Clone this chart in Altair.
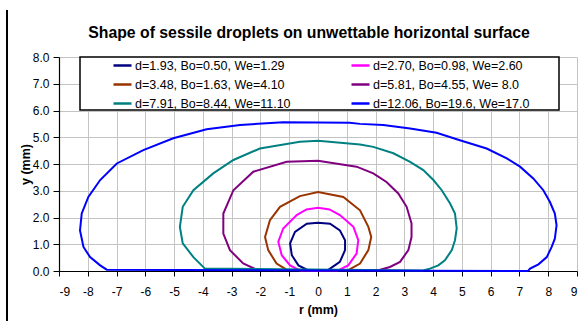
import altair as alt
import pandas as pd

labels = [
    "d=1.93, Bo=0.50, We=1.29",
    "d=2.70, Bo=0.98, We=2.60",
    "d=3.48, Bo=1.63, We=4.10",
    "d=5.81, Bo=4.55, We= 8.0",
    "d=7.91, Bo=8.44, We=11.10",
    "d=12.06, Bo=19.6, We=17.0",
]
colors = ["#000080", "#ff00ff", "#993300", "#800080", "#008080", "#0000ff"]

r1 = [0.30, 0.42, 0.76, 0.94, 0.94, 0.76, 0.42, 0.00, -0.39, -0.80, -0.97, -0.91, -0.68, -0.30]
y1 = [0.00, 0.09, 0.34, 0.78, 1.15, 1.52, 1.77, 1.80, 1.77, 1.46, 1.03, 0.59, 0.21, 0.00]

r2 = [0.70, 1.05, 1.34, 1.40, 1.23, 0.76, 0.40, 0.00, -0.40, -0.74, -1.21, -1.38, -1.26, -0.97, -0.63]
y2 = [0.02, 0.21, 0.65, 1.15, 1.65, 2.09, 2.30, 2.36, 2.30, 2.09, 1.59, 1.09, 0.59, 0.21, 0.02]

r3 = [1.05, 1.46, 1.75, 1.85, 1.75, 1.46, 0.88, 0.00, -0.63, -1.32, -1.67, -1.84, -1.73, -1.44, -1.09]
y3 = [0.03, 0.28, 0.78, 1.27, 1.65, 2.27, 2.77, 2.95, 2.80, 2.40, 1.90, 1.27, 0.78, 0.28, 0.05]

r4 = [2.10, 2.50, 2.85, 3.14, 3.25, 3.25, 3.08, 2.79, 2.38, 1.92, 1.34, 0.00, -1.09, -2.25, -2.94, -3.29, -3.29, -3.06, -2.60, -2.13]
y4 = [0.03, 0.15, 0.34, 0.78, 1.27, 1.78, 2.40, 2.90, 3.33, 3.65, 3.90, 4.12, 4.08, 3.71, 3.02, 2.15, 1.40, 0.78, 0.28, 0.05]

r5 = [3.65, 3.89, 4.18, 4.41, 4.65, 4.76, 4.82, 4.76, 4.59, 4.30, 4.01, 3.66, 3.20, 2.62, 1.92, 1.46, 0.00,
      -0.63, -2.02, -2.94, -3.64, -4.33, -4.70, -4.80, -4.70, -4.33, -3.93]
y5 = [0.02, 0.09, 0.21, 0.40, 0.78, 1.15, 1.59, 2.15, 2.52, 3.02, 3.40, 3.77, 4.08, 4.40, 4.64, 4.73, 4.87,
      4.83, 4.58, 4.15, 3.65, 3.02, 2.40, 1.65, 1.03, 0.52, 0.09]

r6 = [7.30, 7.37, 7.66, 7.95, 8.12, 8.23, 8.29, 8.23, 8.06, 7.83, 7.48, 7.02, 6.56, 5.86, 4.93, 4.12, 3.20,
      2.27, 1.46, 1.10, 0.00, -1.21, -2.71, -3.87, -5.03, -6.07, -6.99, -7.57, -7.98, -8.21, -8.27, -8.15,
      -7.92, -7.57, -7.34]
y6 = [0.00, 0.09, 0.25, 0.52, 0.90, 1.21, 1.71, 2.15, 2.58, 3.02, 3.46, 3.90, 4.21, 4.58, 4.89, 5.17, 5.33,
      5.46, 5.50, 5.54, 5.55, 5.56, 5.46, 5.30, 4.96, 4.52, 4.02, 3.40, 2.77, 2.15, 1.52, 0.90, 0.52, 0.21,
      0.05]

x_ticks = list(range(-9, 10))
y_ticks = [0, 1, 2, 3, 4, 5, 6, 7, 8]

rows = []
for lab, rs, ys in zip(labels, [r1, r2, r3, r4, r5, r6], [y1, y2, y3, y4, y5, y6]):
    pts = list(zip(rs, ys)) + [(rs[0], ys[0])]
    for i, (r, y) in enumerate(pts):
        rows.append({"series": lab, "r": r, "y": y, "i": i})
df = pd.DataFrame(rows)

# legend is filled column by column; this order gives the reference's row-wise reading
legend_order = [0, 2, 4, 1, 3, 5]
dom = [labels[k] for k in legend_order]
rng = [colors[k] for k in legend_order]

FONT = "Liberation Sans"

lines = alt.Chart(df).mark_line(strokeWidth=2).encode(
    x=alt.X("r:Q", scale=alt.Scale(domain=[-9, 9], nice=False),
            axis=alt.Axis(values=x_ticks, labelExpr="datum.value + ''", title="r (mm)",
                          labelPadding=10, titlePadding=6, tickSize=5)),
    y=alt.Y("y:Q", scale=alt.Scale(domain=[0, 8], nice=False),
            axis=alt.Axis(values=y_ticks, format=".1f", title="y (mm)",
                          labelPadding=4, titlePadding=0, tickSize=6)),
    color=alt.Color("series:N", scale=alt.Scale(domain=dom, range=rng),
                    sort=dom,
                    legend=alt.Legend(title=None, orient="none", legendX=53, legendY=-2,
                                      columns=2, columnPadding=55, rowPadding=2,
                                      symbolType="stroke", symbolSize=324, symbolStrokeWidth=2.5,
                                      labelFontSize=12.5, labelFont=FONT, labelColor="#000000",
                                      labelOffset=2, padding=0)),
    order=alt.Order("i:Q"),
    detail="series:N",
)

box = alt.Chart(pd.DataFrame({"k": [0]})).mark_rect(
    fill="white", stroke="black", strokeWidth=1.5
).encode(x=alt.value(21), x2=alt.value(500), y=alt.value(0), y2=alt.value(53))

border = alt.Chart(pd.DataFrame({"k": [0]})).mark_rule(
    color="black", strokeWidth=2
).encode(x=alt.value(-52), y=alt.value(-47), y2=alt.value(264))

chart = alt.layer(lines, box, border).properties(
    width=518, height=214,
    title=alt.TitleParams("Shape of sessile droplets on unwettable horizontal surface",
                          font=FONT, fontSize=15.8, fontWeight="bold", color="#000000",
                          dx=-9, offset=-33),
    autosize=alt.AutoSizeParams(type="none"),
    padding={"left": 59, "top": 57, "right": 1, "bottom": 50},
).configure_view(stroke=None).configure_axis(
    labelFont=FONT, titleFont=FONT, labelFontSize=12, titleFontSize=12.5,
    labelColor="#000000", titleColor="#000000", titleFontWeight="bold",
    gridColor="#c4c4c4", gridWidth=1, domainColor="#000000", tickColor="#000000",
    domainWidth=1.2,
)

chart.save("out.html", embed_options={"renderer": "svg", "actions": False})
